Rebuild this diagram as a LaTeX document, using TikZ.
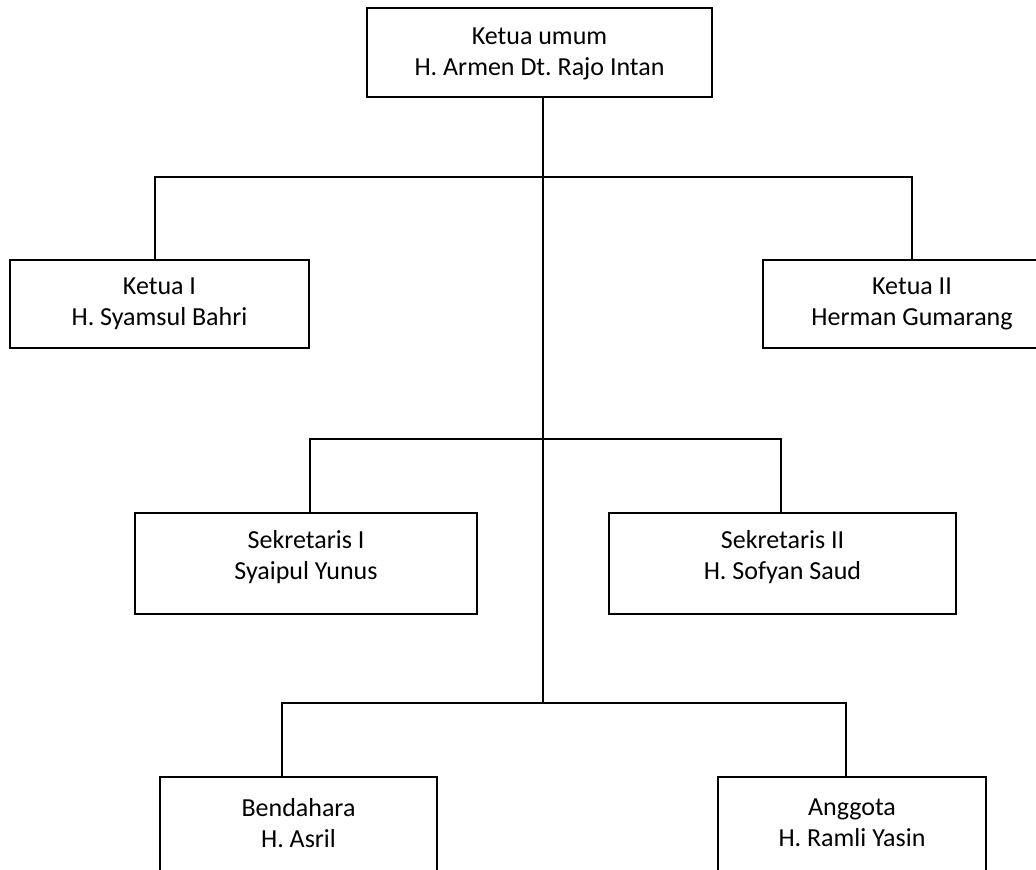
\documentclass[tikz,border=0pt]{standalone}
\usepackage{fontspec}
\setmainfont{Carlito}
\frenchspacing

\begin{document}
\begin{tikzpicture}[x=1pt, y=-1pt, line width=1.5pt,
    box/.style={draw, align=center, anchor=north, inner sep=0pt,
        font=\fontsize{26}{31}\selectfont}]
    % Fix the page size
    \path[use as bounding box] (0,0) rectangle (1036,870);
    \clip (0,0) rectangle (1036,870);

    % Draw the boxes
    \node[box, minimum width=345pt, minimum height=89pt, text depth=0.5pt] (umum) at (539.5,7) {Ketua umum\\H. Armen Dt. Rajo Intan};
    \node[box, minimum width=299pt, minimum height=88pt] (ketua1) at (159.5,259) {Ketua I\\H. Syamsul Bahri};
    \node[box, minimum width=298pt, minimum height=88pt] (ketua2) at (912,259) {Ketua II\\Herman Gumarang};
    \node[box, minimum width=342pt, minimum height=101pt, text depth=17pt] (sekr1) at (306,512) {Sekretaris I\\Syaipul Yunus};
    \node[box, minimum width=347pt, minimum height=101pt, text depth=17pt] (sekr2) at (782.5,512) {Sekretaris II\\H. Sofyan Saud};
    \node[box, minimum width=277pt, minimum height=100pt, text depth=8pt] (bendahara) at (298.5,776) {Bendahara\\H. Asril};
    \node[box, minimum width=268pt, minimum height=100pt, text depth=8pt] (anggota) at (852,776) {Anggota\\H. Ramli Yasin};

    % Points of the bars
    \coordinate (bar1l) at (155,177);
    \coordinate (bar1r) at (912,177);
    \coordinate (bar2l) at (310,439);
    \coordinate (bar2r) at (781,439);
    \coordinate (bar3l) at (282,703);
    \coordinate (bar3r) at (846,703);
    \coordinate (trunk) at (543,703);

    % Draw the main line
    \draw (umum.south -| trunk) -- (trunk);

    % Draw the bars
    \draw (ketua1.north -| bar1l) -- (bar1l) -- (bar1r) -- (ketua2.north -| bar1r);
    \draw (sekr1.north -| bar2l) -- (bar2l) -- (bar2r) -- (sekr2.north -| bar2r);
    \draw (bendahara.north -| bar3l) -- (bar3l) -- (bar3r) -- (anggota.north -| bar3r);
\end{tikzpicture}
\end{document}
